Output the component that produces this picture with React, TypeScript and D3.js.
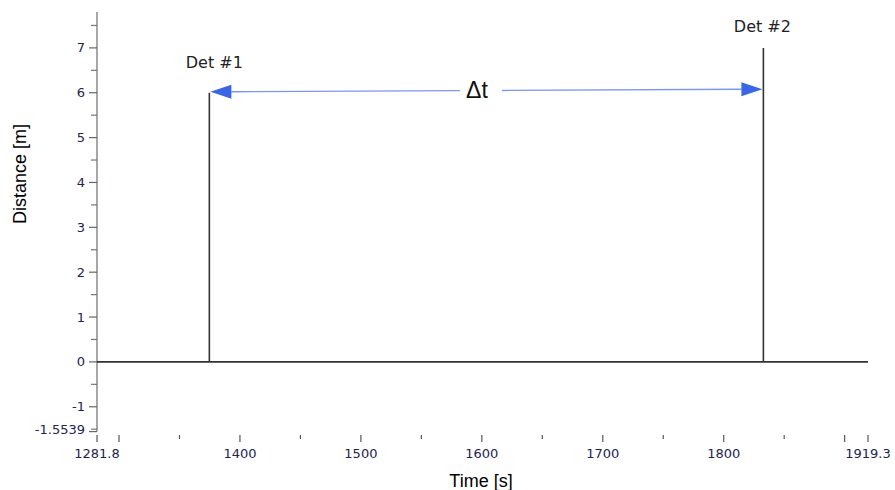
import React from "react";
import * as d3 from "d3";

// ---- data ----
const timeDomain = [1281.8, 1919.3];
const distDomain = [-1.5539, 7.8];
const stepTimes = [1281.8, 1374.7, 1374.7, 1374.7, 1832.8, 1832.8, 1832.8, 1919.3];
const stepDist = [0, 0, 6, 0, 0, 7, 0, 0];
const detectorNames = ["Det #1", "Det #2"];
const detectorTimes = [1374.7, 1832.8];
const detectorHeights = [6, 7];
const arrowTimes = [1374.7, 1832.8];
const arrowDist = [6.02, 6.08];
const arrowLabel = "Δt";
const arrowLabelTime = 1596.0;
const arrowGapTimes = [1581.9, 1616.7];
const xMajorTicks = [1400, 1500, 1600, 1700, 1800];
const xUnlabeledMajor = [1300, 1900];
const xMinorTicks = [1350, 1450, 1550, 1650, 1750, 1850];
const xEndTicks = [1281.8, 1919.3];
const yMajorTicks = [-1, 0, 1, 2, 3, 4, 5, 6, 7];
const yMinorTicks = [-1.5, -0.5, 0.5, 1.5, 2.5, 3.5, 4.5, 5.5, 6.5, 7.5];
const yEndTick = -1.5539;
const xTitle = "Time [s]";
const yTitle = "Distance [m]";

const W = 895;
const H = 490;

export default function App() {
  const x = d3.scaleLinear().domain(timeDomain).range([97, 868]);
  const y = d3.scaleLinear().domain(distDomain).range([431.6, 12]);
  const tickFont = "'DejaVu Sans', Verdana, sans-serif";
  const labelColor = "#23234f";
  const axisY = 435;

  const stepLine = d3
    .line<number>()
    .x((_, i) => x(stepTimes[i]))
    .y((d) => y(d))(stepDist);

  const ax0 = x(arrowTimes[0]);
  const ax1 = x(arrowTimes[1]);
  const ay0 = y(arrowDist[0]);
  const ay1 = y(arrowDist[1]);
  const gapL = x(arrowGapTimes[0]);
  const gapR = x(arrowGapTimes[1]);
  const headL = 22;
  const headH = 7;
  const ayAt = (px: number) => ay0 + ((px - ax0) / (ax1 - ax0)) * (ay1 - ay0);

  return (
    <svg
      width={W}
      height={H}
      style={{ position: "absolute", left: 0, top: 0, display: "block", background: "#fff" }}
    >
      {/* y axis */}
      <line x1={97} x2={97} y1={12} y2={y(yEndTick)} stroke="#8a8a8a" strokeWidth={1.5} />
      {yMajorTicks.map((t) => (
        <g key={"ym" + t}>
          <line x1={89} x2={97} y1={y(t)} y2={y(t)} stroke="#666" strokeWidth={1.2} />
          <text
            x={85}
            y={y(t)}
            dy="0.35em"
            textAnchor="end"
            fontFamily={tickFont}
            fontSize={13}
            fill={labelColor}
          >
            {t}
          </text>
        </g>
      ))}
      {yMinorTicks.map((t) => (
        <line key={"yn" + t} x1={91} x2={97} y1={y(t)} y2={y(t)} stroke="#777" strokeWidth={1.2} />
      ))}
      <line x1={89} x2={97} y1={y(yEndTick)} y2={y(yEndTick)} stroke="#666" strokeWidth={1.2} />
      <text
        x={85}
        y={y(yEndTick)}
        dy="0.2em"
        textAnchor="end"
        fontFamily={tickFont}
        fontSize={13}
        fill={labelColor}
      >
        {yEndTick}
      </text>

      {/* x axis ticks */}
      {xMajorTicks.map((t) => (
        <g key={"xm" + t}>
          <line x1={x(t)} x2={x(t)} y1={axisY} y2={axisY + 7} stroke="#555" strokeWidth={1.2} />
          <text
            x={x(t)}
            y={458}
            textAnchor="middle"
            fontFamily={tickFont}
            fontSize={13}
            fill={labelColor}
          >
            {t}
          </text>
        </g>
      ))}
      {xUnlabeledMajor.map((t) => (
        <line key={"xu" + t} x1={x(t)} x2={x(t)} y1={axisY} y2={axisY + 7} stroke="#555" strokeWidth={1.2} />
      ))}
      {xMinorTicks.map((t) => (
        <line key={"xn" + t} x1={x(t)} x2={x(t)} y1={axisY} y2={axisY + 4} stroke="#555" strokeWidth={1.2} />
      ))}
      {xEndTicks.map((t) => (
        <g key={"xe" + t}>
          <line x1={x(t)} x2={x(t)} y1={axisY} y2={axisY + 7} stroke="#555" strokeWidth={1.2} />
          <text
            x={x(t)}
            y={458}
            textAnchor="middle"
            fontFamily={tickFont}
            fontSize={13}
            fill={labelColor}
          >
            {t}
          </text>
        </g>
      ))}

      {/* data step line */}
      <path d={stepLine || ""} fill="none" stroke="#333" strokeWidth={1.6} />

      {/* detector labels */}
      {detectorNames.map((n, i) => (
        <text
          key={n}
          x={x(detectorTimes[i]) + (i === 0 ? 5 : -1)}
          y={y(detectorHeights[i]) - (i === 0 ? 25 : 16)}
          textAnchor="middle"
          fontFamily={tickFont}
          fontSize={16}
          fill="#222"
        >
          {n}
        </text>
      ))}

      {/* delta-t arrow */}
      <line x1={ax0 + headL} x2={gapL} y1={ayAt(ax0 + headL)} y2={ayAt(gapL)} stroke="#7b97f0" strokeWidth={1.4} />
      <line x1={gapR} x2={ax1 - headL} y1={ayAt(gapR)} y2={ayAt(ax1 - headL)} stroke="#7b97f0" strokeWidth={1.4} />
      <path
        d={`M${ax0 + 1},${ay0} L${ax0 + headL},${ay0 - headH} L${ax0 + headL},${ay0 + headH} Z`}
        fill="#3a66e6"
      />
      <path
        d={`M${ax1 - 1},${ay1} L${ax1 - headL},${ay1 - headH} L${ax1 - headL},${ay1 + headH} Z`}
        fill="#3a66e6"
      />
      <text
        x={x(arrowLabelTime)}
        y={98}
        textAnchor="middle"
        fontFamily="'Liberation Sans', Arial, sans-serif"
        fontSize={23}
        fill="#111"
      >
        {arrowLabel}
      </text>

      {/* axis titles */}
      <text
        x={481}
        y={487}
        textAnchor="middle"
        fontFamily="'Liberation Sans', Arial, sans-serif"
        fontSize={18}
        fill="#000"
      >
        {xTitle}
      </text>
      <text
        transform={`translate(26,174) rotate(-90)`}
        textAnchor="middle"
        fontFamily="'Liberation Sans', Arial, sans-serif"
        fontSize={18}
        fill="#000"
      >
        {yTitle}
      </text>
    </svg>
  );
}
